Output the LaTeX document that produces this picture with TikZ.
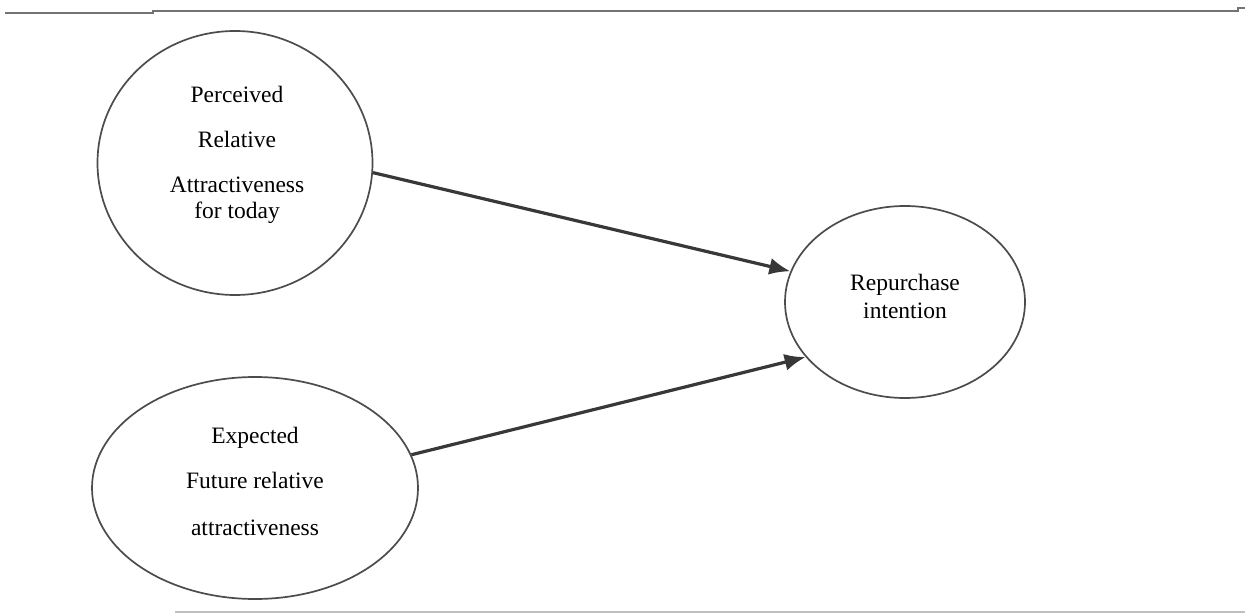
\documentclass[tikz,border=0pt]{standalone}
\usepackage{fontspec}
\setmainfont{Liberation Serif}
\usetikzlibrary{shapes.geometric,arrows.meta}
\begin{document}
\begin{tikzpicture}[x=1pt,y=-1pt,
  bubble/.style={draw=black!70,line width=1.7pt,ellipse,inner sep=0pt},
  word/.style={font=\fontsize{23.5}{27}\selectfont,anchor=base,inner sep=0pt},
  link/.style={draw=black!78,line width=3.2pt,-{Latex[length=21pt,width=17pt]}},
  rule/.style={line width=2pt}]
\useasboundingbox[fill=white] (0,0) rectangle (1250,615);

% header and footer rules
\draw[rule,draw=black!55] (5,13) -- (153,13) -- (153,11) -- (1238,11) -- (1238,8) -- (1245,8);
\draw[rule,draw=black!25] (175,612) -- (1245,612);

% constructs
\node[bubble,minimum width=275pt,minimum height=264pt] (pra) at (235,163) {};
\node[bubble,minimum width=326pt,minimum height=222pt] (efa) at (255,488) {};
\node[bubble,minimum width=240pt,minimum height=192pt] (ri)  at (905,302) {};

% construct labels
\node[word] (pra1) at (237,103) {Perceived};
\node[word] (pra2) at (237,147) {Relative};
\node[word] (pra3) at (237,192) {Attractiveness};
\node[word] (pra4) at (237,218) {for today};

\node[word] (efa1) at (255,443) {Expected};
\node[word] (efa2) at (255,488) {Future relative};
\node[word] (efa3) at (255,535) {attractiveness};

\node[word] (ri1) at (905,290) {Repurchase};
\node[word] (ri2) at (905,318) {intention};

% hypothesised paths
\draw[link] (pra.-4) -- (ri.165);
\draw[link] (efa.12.6) -- (ri.209);
\end{tikzpicture}
\end{document}
